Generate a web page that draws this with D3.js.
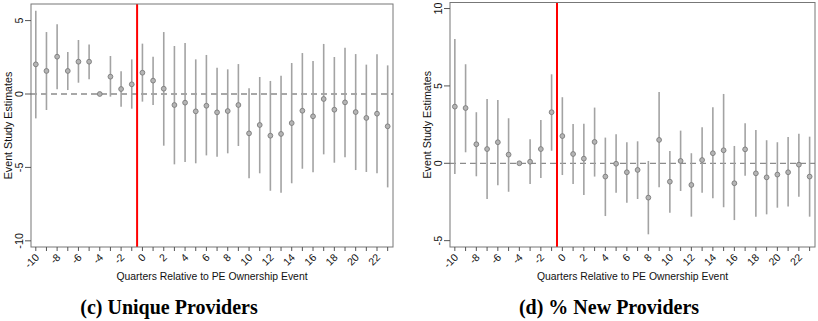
<!DOCTYPE html>
<html>
<head>
<meta charset="utf-8">
<script src="https://cdn.jsdelivr.net/npm/d3@7"></script>
<style>
body { margin: 0; background: #fff; }
</style>
</head>
<body>
<div id="chart"></div>
<script>
// Quarters relative to the PE ownership event (-4 is the omitted period)
const quarters = [-10, -9, -8, -7, -6, -5, -4, -3, -2, -1, 0, 1, 2, 3, 4, 5, 6, 7, 8, 9, 10, 11, 12, 13, 14, 15, 16, 17, 18, 19, 20, 21, 22, 23];
const xTickLabels = [-10, -8, -6, -4, -2, 0, 2, 4, 6, 8, 10, 12, 14, 16, 18, 20, 22];

// (c) Unique Providers
const uniqueEst = [2.02, 1.57, 2.54, 1.57, 2.2, 2.2, 0, 1.18, 0.34, 0.66, 1.45, 0.91, 0.36, -0.75, -0.59, -1.18, -0.8, -1.25, -1.16, -0.75, -2.68, -2.11, -2.84, -2.72, -1.98, -1.14, -1.52, -0.34, -1.07, -0.57, -1.23, -1.63, -1.34, -2.2];
const uniqueHi = [5.67, 4.22, 4.75, 2.86, 3.68, 3.38, 0, 2.59, 1.55, 2.36, 3.43, 2.54, 4.22, 3.27, 3.47, 2.36, 2.66, 1.79, 1.68, 2.04, 0.39, 1.16, 0.89, 1.25, 2.11, 2.79, 2.25, 3.41, 2.52, 3.15, 2.72, 2.0, 2.7, 1.95];
const uniqueLo = [-1.66, -1.09, 0.32, 0.27, 0.77, 1.0, 0, -0.18, -0.86, -1.0, -0.52, -0.75, -3.52, -4.79, -4.63, -4.72, -4.18, -4.27, -4.04, -3.54, -5.74, -5.4, -6.59, -6.72, -6.08, -5.09, -5.33, -4.11, -4.68, -4.31, -5.18, -5.31, -5.4, -6.36];
const uniqueYTicks = [-10, -5, 0, 5];

// (d) % New Providers
const newEst = [3.66, 3.57, 1.23, 0.92, 1.36, 0.56, 0, 0.1, 0.92, 3.3, 1.76, 0.6, 0.3, 1.38, -0.86, -0.03, -0.58, -0.43, -2.22, 1.51, -1.19, 0.15, -1.4, 0.21, 0.65, 0.84, -1.29, 0.9, -0.65, -0.91, -0.73, -0.58, -0.09, -0.86];
const newHi = [8.03, 6.4, 3.3, 4.16, 4.09, 2.91, 0, 1.55, 2.8, 5.75, 4.27, 2.54, 2.56, 3.6, 1.66, 1.87, 1.36, 1.42, 0.15, 4.61, 0.8, 2.11, 0.65, 2.33, 3.62, 4.48, 1.12, 2.59, 2.15, 1.49, 1.36, 1.7, 1.91, 1.72];
const newLo = [-0.69, 0.71, -0.84, -2.31, -1.42, -1.84, 0, -1.34, -0.95, 0.81, -0.76, -1.34, -2.05, -0.86, -3.41, -1.9, -2.55, -2.31, -4.59, -1.55, -3.19, -1.79, -3.45, -1.9, -2.26, -2.84, -3.67, -0.8, -3.45, -3.3, -2.87, -2.8, -2.16, -3.45];
const newYTicks = [-5, 0, 5, 10];

const eventLine = -0.5;
const xTitle = "Quarters Relative to PE Ownership Event";
const yTitle = "Event Study Estimates";

const width = 818, height = 321;
const sans = "'Liberation Sans', Arial, sans-serif";
const serif = "'Liberation Serif', 'Times New Roman', serif";

const svg = d3.select("#chart").append("svg")
    .attr("width", width)
    .attr("height", height);

svg.append("rect").attr("width", width).attr("height", height).attr("fill", "#fff");

const panels = [
    { left: 31, right: 393, top: 4, bottom: 247, yDomain: [-10.42, 6.13],
      est: uniqueEst, lo: uniqueLo, hi: uniqueHi, yTicks: uniqueYTicks,
      caption: "(c) Unique Providers", captionX: 169 },
    { left: 450, right: 815, top: 2.5, bottom: 247, yDomain: [-5.41, 10.39],
      est: newEst, lo: newLo, hi: newHi, yTicks: newYTicks,
      caption: "(d) % New Providers", captionX: 609 }
];

panels.forEach(drawPanel);

function drawPanel(p) {
    const x = d3.scaleLinear().domain([-10.45, 23.5]).range([p.left, p.right]);
    const y = d3.scaleLinear().domain(p.yDomain).range([p.bottom, p.top]);
    const g = svg.append("g");

    // zero reference line
    g.append("line")
        .attr("x1", p.left).attr("x2", p.right)
        .attr("y1", y(0)).attr("y2", y(0))
        .attr("stroke", "#8c8c8c")
        .attr("stroke-width", 1.3)
        .attr("stroke-dasharray", "6,4");

    const rows = quarters.map((q, i) => ({ q, est: p.est[i], lo: p.lo[i], hi: p.hi[i] }));

    // confidence intervals
    g.selectAll("line.ci")
        .data(rows.filter(d => d.hi !== d.lo))
        .enter().append("line")
        .attr("class", "ci")
        .attr("x1", d => x(d.q)).attr("x2", d => x(d.q))
        .attr("y1", d => y(d.lo)).attr("y2", d => y(d.hi))
        .attr("stroke", "#a3a3a3")
        .attr("stroke-width", 1.6);

    // point estimates
    g.selectAll("circle.pt")
        .data(rows)
        .enter().append("circle")
        .attr("class", "pt")
        .attr("cx", d => x(d.q))
        .attr("cy", d => y(d.est))
        .attr("r", 2.4)
        .attr("fill", "#b5b5b5")
        .attr("stroke", "#7a7a7a")
        .attr("stroke-width", 0.9);

    // event line
    g.append("line")
        .attr("x1", x(eventLine)).attr("x2", x(eventLine))
        .attr("y1", p.top).attr("y2", p.bottom)
        .attr("stroke", "#ff0000")
        .attr("stroke-width", 2);

    // frame
    g.append("rect")
        .attr("x", p.left).attr("y", p.top)
        .attr("width", p.right - p.left).attr("height", p.bottom - p.top)
        .attr("fill", "none")
        .attr("stroke", "#777")
        .attr("stroke-width", 1);

    // x axis ticks
    g.selectAll("line.xt")
        .data(quarters)
        .enter().append("line")
        .attr("x1", d => x(d)).attr("x2", d => x(d))
        .attr("y1", p.bottom).attr("y2", p.bottom + 4)
        .attr("stroke", "#555")
        .attr("stroke-width", 1);

    g.selectAll("text.xl")
        .data(xTickLabels)
        .enter().append("text")
        .attr("transform", d => `translate(${x(d) + 4},${p.bottom + 11}) rotate(-45)`)
        .attr("text-anchor", "end")
        .attr("font-family", sans)
        .attr("font-size", 10.5)
        .attr("fill", "#111")
        .text(d => d);

    // y axis ticks
    g.selectAll("line.yt")
        .data(p.yTicks)
        .enter().append("line")
        .attr("x1", p.left - 6).attr("x2", p.left)
        .attr("y1", d => y(d)).attr("y2", d => y(d))
        .attr("stroke", "#555")
        .attr("stroke-width", 1);

    g.selectAll("text.yl")
        .data(p.yTicks)
        .enter().append("text")
        .attr("transform", d => `translate(${p.left - 8},${y(d)}) rotate(-90)`)
        .attr("text-anchor", "middle")
        .attr("font-family", sans)
        .attr("font-size", 10.8)
        .attr("fill", "#111")
        .text(d => d);

    // titles
    g.append("text")
        .attr("transform", `translate(${p.left - 19},${(p.top + p.bottom) / 2}) rotate(-90)`)
        .attr("text-anchor", "middle")
        .attr("font-family", sans)
        .attr("font-size", 10.7)
        .attr("fill", "#111")
        .text(yTitle);

    g.append("text")
        .attr("x", (p.left + p.right) / 2)
        .attr("y", 280)
        .attr("text-anchor", "middle")
        .attr("font-family", sans)
        .attr("font-size", 10.4)
        .attr("fill", "#111")
        .text(xTitle);

    g.append("text")
        .attr("x", p.captionX)
        .attr("y", 314)
        .attr("text-anchor", "middle")
        .attr("font-family", serif)
        .attr("font-weight", "bold")
        .attr("font-size", 20)
        .attr("fill", "#000")
        .text(p.caption);
}
</script>
</body>
</html>
